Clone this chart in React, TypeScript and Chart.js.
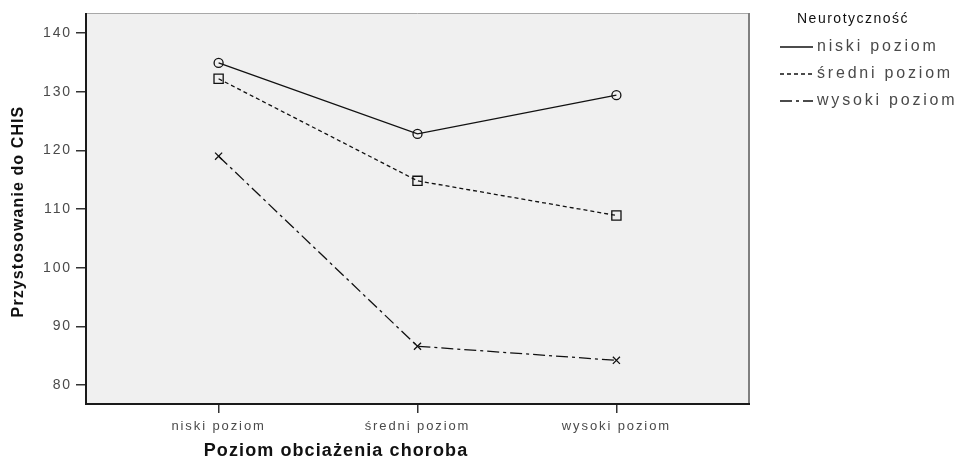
import React, { useEffect, useRef } from "react";
import { Chart, registerables } from "chart.js";

Chart.register(...registerables);

// ---- data ----
const categories = ["niski poziom", "średni poziom", "wysoki poziom"];
const seriesNames = ["niski poziom", "średni poziom", "wysoki poziom"];
const niskiValues = [134.9, 122.8, 129.4];
const sredniValues = [132.2, 114.8, 108.9];
const wysokiValues = [119.0, 86.6, 84.2];
const yTickValues = [80, 90, 100, 110, 120, 130, 140];
const legendTitle = "Neurotyczność";
const xTitle = "Poziom obciażenia choroba";
const yTitle = "Przystosowanie do CHIS";

const seriesValues = [niskiValues, sredniValues, wysokiValues];
const seriesDash: number[][] = [[], [4, 3], [12, 4, 3, 4]];
const seriesPoint = ["circle", "rect", "crossRot"];
const seriesRadius = [4.5, 6.5, 5];

const FONT = "'Liberation Sans', Arial, sans-serif";

function spacedText(ctx: CanvasRenderingContext2D, text: string, x: number, y: number, spacing: number) {
  (ctx as any).letterSpacing = spacing + "px";
  ctx.fillText(text, x, y);
  (ctx as any).letterSpacing = "0px";
}

const decorPlugin = {
  id: "decor",
  beforeDraw(chart: any) {
    const { ctx, chartArea: a } = chart;
    ctx.save();
    ctx.fillStyle = "#f0f0f0";
    ctx.fillRect(a.left, a.top, a.right - a.left, a.bottom - a.top);
    ctx.restore();
    (ctx as any).letterSpacing = "1.9px";
  },
  beforeDatasetsDraw(chart: any) {
    const { ctx, chartArea: a } = chart;
    (ctx as any).letterSpacing = "0px";
    ctx.save();
    ctx.lineWidth = 1;
    ctx.strokeStyle = "#a8a8a8";
    ctx.beginPath();
    ctx.moveTo(a.left, a.top + 0.5);
    ctx.lineTo(a.right, a.top + 0.5);
    ctx.stroke();
    ctx.lineWidth = 2;
    ctx.strokeStyle = "#808080";
    ctx.beginPath();
    ctx.moveTo(a.right, a.top);
    ctx.lineTo(a.right, a.bottom);
    ctx.stroke();
    ctx.strokeStyle = "#1a1a1a";
    ctx.beginPath();
    ctx.moveTo(a.left, a.top);
    ctx.lineTo(a.left, a.bottom);
    ctx.lineTo(a.right + 1, a.bottom);
    ctx.stroke();
    ctx.restore();
  },
  afterDraw(chart: any) {
    const { ctx, chartArea: a } = chart;
    ctx.save();
    // axis titles
    ctx.fillStyle = "#111";
    ctx.textAlign = "center";
    ctx.textBaseline = "middle";
    ctx.font = `bold 18px ${FONT}`;
    spacedText(ctx, xTitle, 328, 443, 1.1);
    ctx.save();
    ctx.translate(11, (a.top + a.bottom) / 2 + 3);
    ctx.rotate(-Math.PI / 2);
    ctx.font = `bold 16px ${FONT}`;
    spacedText(ctx, yTitle, 0, 0, 1.1);
    ctx.restore();

    // legend
    ctx.textAlign = "left";
    ctx.fillStyle = "#111";
    ctx.font = `14px ${FONT}`;
    spacedText(ctx, legendTitle, 789, 11, 1.5);
    const rowY = [39, 66, 93];
    chart.data.datasets.forEach((ds: any, i: number) => {
      const y = rowY[i];
      ctx.strokeStyle = "#111";
      ctx.lineWidth = 1.3;
      ctx.setLineDash(ds.borderDash || []);
      ctx.beginPath();
      ctx.moveTo(772, y);
      ctx.lineTo(805, y);
      ctx.stroke();
      ctx.setLineDash([]);
      ctx.fillStyle = "#4a4a4a";
      ctx.font = `16px ${FONT}`;
      spacedText(ctx, ds.label, 809, y, 2.8);
    });
    ctx.restore();
  },
};

export default function App() {
  const canvasRef = useRef<HTMLCanvasElement | null>(null);

  useEffect(() => {
    const canvas = canvasRef.current;
    if (!canvas) return;
    const datasets = seriesNames.map((name, i) => ({
      label: name,
      data: seriesValues[i].map((v, j) => ({ x: j, y: v })),
      borderColor: "#111",
      borderWidth: 1.3,
      borderDash: seriesDash[i],
      pointStyle: seriesPoint[i] as any,
      pointRadius: seriesRadius[i],
      pointBorderColor: "#111",
      pointBackgroundColor: "rgba(0,0,0,0)",
      pointBorderWidth: 1.3,
      fill: false,
      tension: 0,
    }));
    const chart = new Chart(canvas, {
      type: "line",
      data: { datasets },
      plugins: [decorPlugin],
      options: {
        animation: false,
        responsive: false,
        maintainAspectRatio: false,
        layout: { autoPadding: false, padding: { top: 5, right: 208, left: 0, bottom: 0 } },
        plugins: { legend: { display: false }, tooltip: { enabled: false } },
        scales: {
          x: {
            type: "linear",
            min: -2 / 3,
            max: 8 / 3,
            afterBuildTicks: (s: any) => {
              s.ticks = categories.map((_, i) => ({ value: i }));
            },
            afterFit: (s: any) => {
              s.height = 56;
            },
            grid: { display: true, drawOnChartArea: false, drawTicks: true, tickLength: 9, color: "#333", lineWidth: 1.5 },
            border: { display: false },
            ticks: {
              autoSkip: false,
              maxRotation: 0,
              padding: 6,
              color: "#4a4a4a",
              font: { family: FONT, size: 13 },
              callback: (v: any) => categories[Math.round(Number(v))] ?? "",
            },
          },
          y: {
            min: 76.76,
            max: 143.41,
            afterBuildTicks: (s: any) => {
              s.ticks = yTickValues.map((v) => ({ value: v }));
            },
            afterFit: (s: any) => {
              s.width = 78;
              s.paddingTop = 0;
              s.paddingBottom = 0;
            },
            grid: { display: true, drawOnChartArea: false, drawTicks: true, tickLength: 10, color: "#333", lineWidth: 1.5 },
            border: { display: false },
            ticks: {
              padding: 4,
              color: "#4a4a4a",
              font: { family: FONT, size: 14 },
            },
          },
        },
      },
    });
    return () => chart.destroy();
  }, []);

  return (
    <div style={{ width: 949, height: 452 }}>
      <canvas ref={canvasRef} width={949} height={452} style={{ width: 949, height: 452, display: "block" }} />
    </div>
  );
}
